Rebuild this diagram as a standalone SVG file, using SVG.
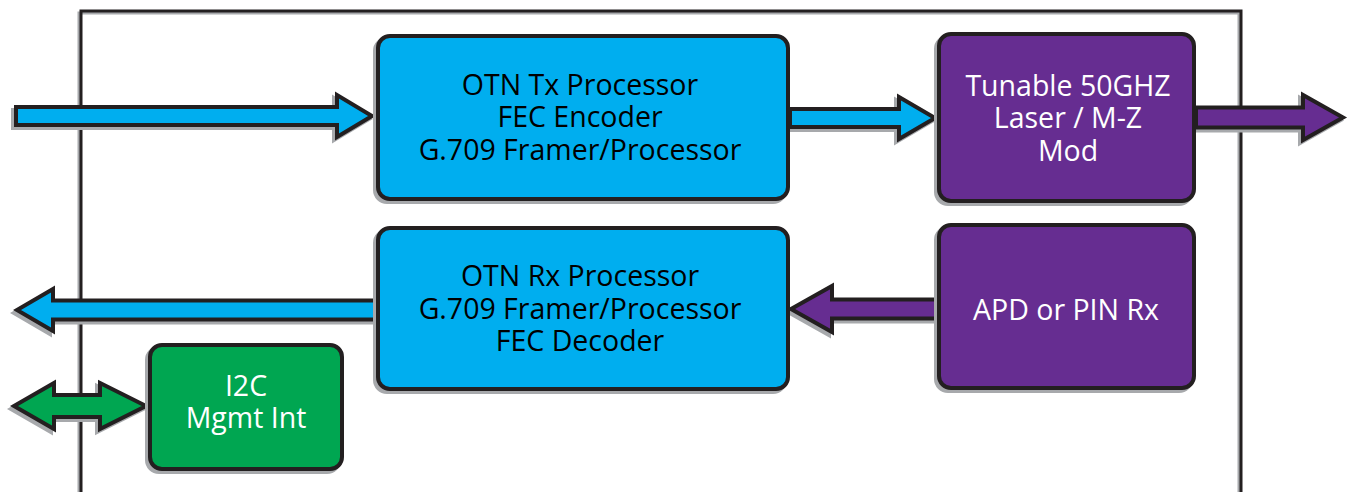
<svg xmlns="http://www.w3.org/2000/svg" width="1351" height="492" viewBox="0 0 1351 492">
<style>
.sh{fill:#a7a9ac;stroke:#a7a9ac;stroke-width:4}
.box{stroke:#231f20;stroke-width:4}
.arr{stroke:#231f20;stroke-width:4;stroke-linejoin:miter}
.blue{fill:#00aeef}
.purple{fill:#662d91}
.green{fill:#00a651}
text{font-family:"Open Sans","Liberation Sans",sans-serif;font-size:28.5px;fill:#ffffff;text-anchor:middle}
text.dk{fill:#000000}
</style>
<rect width="1351" height="492" fill="#ffffff"/>
<g id="frame">
<rect x="79" y="13" width="1160" height="490" fill="none" stroke="#a7a9ac" stroke-width="3"/>
<rect x="81" y="11" width="1160" height="490" fill="none" stroke="#231f20" stroke-width="3"/>
</g>
<g id="connectors">
<g transform="translate(-3,3)">
<polygon class="sh" points="16,107 337,107 337,95 372,116 337,137 337,125 16,125"/>
<polygon class="sh" points="790,109 899,109 899,97 935,118 899,139 899,127 790,127"/>
<polygon class="sh" points="1196,107.5 1303,107.5 1303,95 1343,117.5 1303,140 1303,127.5 1196,127.5"/>
<polygon class="sh" points="378,300.5 53,300.5 53,289 17,310 53,331 53,319.5 378,319.5"/>
<polygon class="sh" points="939,299.5 832,299.5 832,286 791,309 832,332 832,318.5 939,318.5"/>
<polygon class="sh" points="54,395 100,395 100,383 146,406 100,429 100,417 54,417 54,429 14,406 54,383"/>
</g>
<polygon class="arr blue" points="16,107 337,107 337,95 372,116 337,137 337,125 16,125"/>
<polygon class="arr blue" points="790,109 899,109 899,97 935,118 899,139 899,127 790,127"/>
<polygon class="arr purple" points="1196,107.5 1303,107.5 1303,95 1343,117.5 1303,140 1303,127.5 1196,127.5"/>
<polygon class="arr blue" points="378,300.5 53,300.5 53,289 17,310 53,331 53,319.5 378,319.5"/>
<polygon class="arr purple" points="939,299.5 832,299.5 832,286 791,309 832,332 832,318.5 939,318.5"/>
<polygon class="arr green" points="54,395 100,395 100,383 146,406 100,429 100,417 54,417 54,429 14,406 54,383"/>
</g>
<g id="otn-tx">
<rect class="sh" x="375" y="39" width="410" height="163" rx="12"/>
<rect class="box blue" x="378" y="36" width="410" height="163" rx="12"/>
<text class="dk" x="580" y="95">OTN Tx Processor</text>
<text class="dk" x="580" y="127">FEC Encoder</text>
<text class="dk" x="580" y="160">G.709 Framer/Processor</text>
</g>
<g id="laser">
<rect class="sh" x="936" y="37" width="255" height="167" rx="12"/>
<rect class="box purple" x="939" y="34" width="255" height="167" rx="12"/>
<text x="1068" y="96">Tunable 50GHZ</text>
<text x="1068" y="128">Laser / M-Z</text>
<text x="1068" y="161">Mod</text>
</g>
<g id="otn-rx">
<rect class="sh" x="375" y="231" width="410" height="161" rx="12"/>
<rect class="box blue" x="378" y="228" width="410" height="161" rx="12"/>
<text class="dk" x="580" y="286">OTN Rx Processor</text>
<text class="dk" x="580" y="319">G.709 Framer/Processor</text>
<text class="dk" x="580" y="351">FEC Decoder</text>
</g>
<g id="apd">
<rect class="sh" x="936" y="228" width="255" height="163" rx="12"/>
<rect class="box purple" x="939" y="225" width="255" height="163" rx="12"/>
<text x="1066" y="320">APD or PIN Rx</text>
</g>
<g id="i2c">
<rect class="sh" x="147" y="348" width="192" height="124" rx="12"/>
<rect class="box green" x="150" y="345" width="192" height="124" rx="12"/>
<text x="246" y="396">I2C</text>
<text x="246" y="428">Mgmt Int</text>
</g>
</svg>
